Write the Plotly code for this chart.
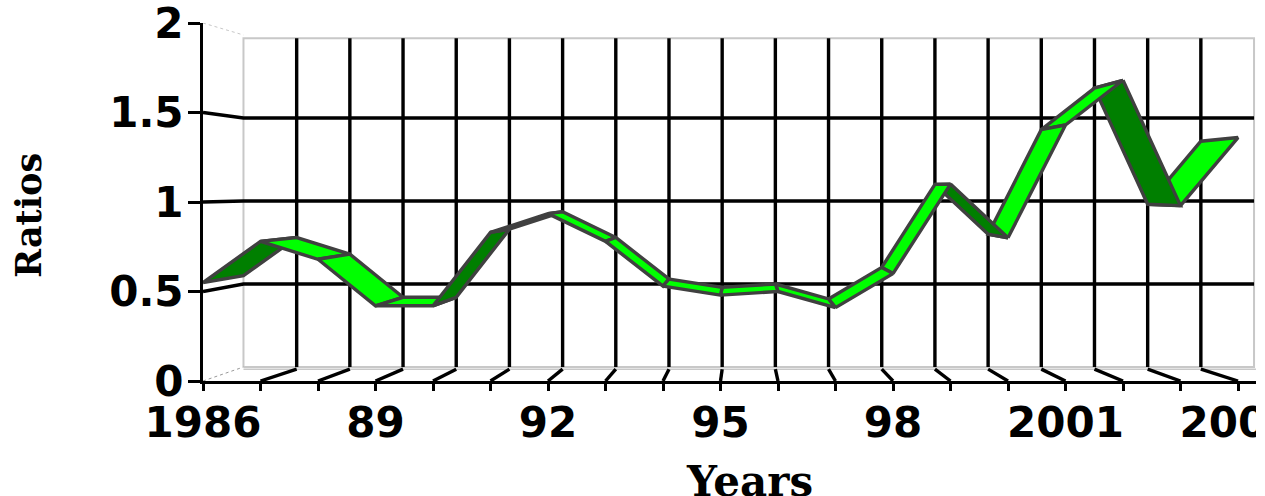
import plotly.graph_objects as go

# ---- data ----
years = list(range(1986, 2005))
ratios = [0.55, 0.78, 0.68, 0.42, 0.42, 0.83, 0.935, 0.78, 0.53, 0.48,
          0.50, 0.41, 0.60, 1.10, 0.80, 1.43, 1.68, 0.98, 1.36]
x_ticklabels = {1986: "1986", 1989: "89", 1992: "92", 1995: "95",
                1998: "98", 2001: "2001", 2004: "2004"}
y_ticks = [0, 0.5, 1, 1.5, 2]
y_ticklabels = ["0", "0.5", "1", "1.5", "2"]
grid_values = [0.5, 1, 1.5]
x_title = "Years"
y_title = "Ratios"

# ---- look of the chart ----
BRIGHT = "#00FF00"
DARK = "#007F00"
EDGE = "#404040"
WALL = "#C8C8C8"
BLACK = "#000000"
TICK_FONT = "DejaVu Sans"
TITLE_FONT = "DejaVu Serif"
FIRST, LAST_AXIS = 1986, 2005
X_MAX = 2004.313
WALL_TOP = 1.98
CENTRE_YEAR = 1994.7
LINE = 3.4


def back_x(year):
    """Where a year on the front plane lands on the receding back wall."""
    return FIRST + 0.704 + 0.925 * (year - FIRST)


def back_y(value):
    """Where a value on the front plane lands on the receding back wall."""
    return 0.0782 + 0.9274 * value


fig = go.Figure()


def poly(xs, ys, color, width=LINE, fill=None, dash=None):
    fig.add_trace(go.Scatter(
        x=xs, y=ys, mode="lines",
        line=dict(color=color, width=width, dash=dash, shape="linear"),
        fill="toself" if fill else None, fillcolor=fill,
        hoverinfo="skip", showlegend=False))


# Back wall frame (double edge) and corner lines
xl, xr = back_x(FIRST), back_x(LAST_AXIS)
y0, yt = back_y(0), back_y(WALL_TOP)
poly([xl, xr, xr, xl, xl], [y0, y0, yt, yt, y0], WALL, 2)
poly([xl, xr + 0.05, xr + 0.05], [y0 - 0.012, y0 - 0.012, yt], WALL, 1.5)
poly([FIRST, xl], [2, back_y(2)], WALL, 1, dash="dot")
poly([FIRST, xl], [0, y0], "#999999", 1, dash="dot")

# Back wall grid and its continuation on the left wall
for v in grid_values:
    poly([FIRST, xl, xr], [v, back_y(v), back_y(v)], BLACK)
for yr in years[1:]:
    poly([back_x(yr), back_x(yr)], [y0, yt], BLACK)
    poly([yr, back_x(yr)], [0, y0 - 0.012], BLACK)

# Ribbon: one quad per year, painted from the outer ends towards the viewer's centre
segments = list(range(len(years) - 1))
segments.sort(key=lambda i: -abs(years[i] + 0.5 - CENTRE_YEAR))
for i in segments:
    xs = [years[i], years[i + 1], back_x(years[i + 1]), back_x(years[i])]
    ys = [ratios[i], ratios[i + 1], back_y(ratios[i + 1]), back_y(ratios[i])]
    area = sum(xs[k] * ys[(k + 1) % 4] - xs[(k + 1) % 4] * ys[k] for k in range(4))
    colour = BRIGHT if area > 0 else DARK
    poly(xs + xs[:1], ys + ys[:1], EDGE, LINE, fill=colour)

fig.update_layout(
    width=1256, height=496, autosize=False,
    margin=dict(l=203, r=0, t=23, b=115, pad=0, autoexpand=False),
    paper_bgcolor="white", plot_bgcolor="white",
    xaxis=dict(
        range=[FIRST, X_MAX], showgrid=False, zeroline=False, automargin=False,
        showline=True, linecolor=BLACK, linewidth=3,
        tickmode="array", tickvals=years,
        ticktext=[x_ticklabels.get(y, "") for y in years],
        ticks="outside", ticklen=7, tickwidth=3, tickcolor=BLACK, tickangle=0,
        ticklabeloverflow="allow", ticklabelstandoff=-4,
        tickfont=dict(family=TICK_FONT, size=42, color=BLACK, weight="bold"),
    ),
    yaxis=dict(
        range=[0, 2], showgrid=False, zeroline=False, automargin=False,
        showline=True, linecolor=BLACK, linewidth=3,
        tickmode="array", tickvals=y_ticks, ticktext=y_ticklabels,
        ticks="outside", ticklen=12, tickwidth=3, tickcolor=BLACK,
        ticklabeloverflow="allow", ticklabelstandoff=-4,
        tickfont=dict(family=TICK_FONT, size=42, color=BLACK, weight="bold"),
    ),
    annotations=[
        dict(text="<b>%s</b>" % x_title, xref="paper", yref="paper",
             x=(749 - 203) / 1053, y=-(481 - 381) / 358, xanchor="center", yanchor="middle",
             showarrow=False, font=dict(family=TITLE_FONT, size=42, color=BLACK)),
        dict(text="<b>%s</b>" % y_title, xref="paper", yref="paper", textangle=-90,
             x=-(203 - 28) / 1053, y=(381 - 216) / 358, xanchor="center", yanchor="middle",
             showarrow=False, font=dict(family=TITLE_FONT, size=35, color=BLACK)),
    ],
)

fig.write_html("out.html", config=dict(displayModeBar=False),
               post_script="document.body.style.margin='0';")
